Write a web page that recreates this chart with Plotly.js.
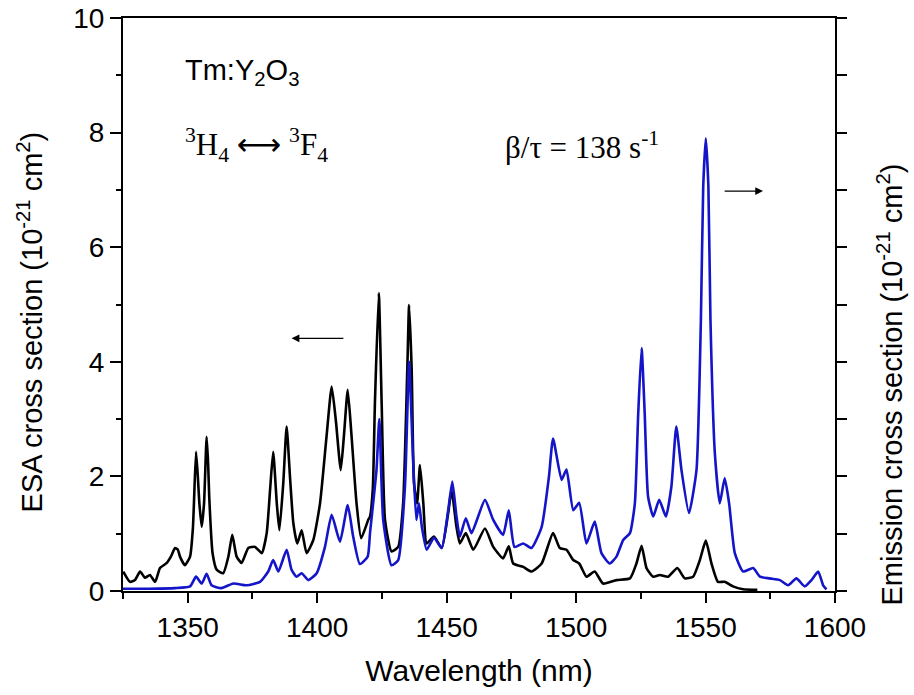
<!DOCTYPE html>
<html>
<head>
<meta charset="utf-8">
<script src="https://cdn.plot.ly/plotly-3.0.1.min.js"></script>
<style>html,body{margin:0;padding:0;background:#fff;}#chart{width:914px;height:695px;}</style>
</head>
<body>
<div id="chart"></div>
<script>
// ESA cross section (black, left axis)
const esaWavelength = [1325.1,1327.7,1329.6,1331.6,1333.5,1335.4,1337.4,1339.3,1341.9,1343.5,1345.1,1346.2,1347.0,1348.9,1350.9,1352.0,1352.4,1353.2,1353.9,1354.5,1355.4,1356.3,1357.3,1357.9,1358.3,1359.6,1361.2,1363.7,1365.7,1367.2,1368.9,1370.8,1373.4,1376.0,1378.6,1380.5,1381.8,1383.0,1384.4,1385.4,1386.9,1388.2,1389.5,1390.8,1392.3,1394.0,1395.9,1398.5,1401.1,1403.6,1405.6,1407.2,1409.1,1410.3,1411.8,1413.3,1415.2,1417.0,1419.7,1420.4,1421.5,1422.3,1423.8,1424.9,1426.2,1428.7,1431.3,1433.2,1434.8,1435.5,1436.5,1437.4,1438.6,1439.7,1441.0,1442.3,1445.1,1448.1,1450.6,1451.9,1453.8,1455.1,1457.4,1460.3,1464.8,1468.0,1471.8,1474.0,1475.7,1479.6,1482.8,1486.7,1491.1,1493.7,1496.3,1498.9,1501.2,1504.0,1507.2,1510.4,1515.6,1520.8,1523.3,1525.3,1527.2,1529.8,1532.3,1535.6,1539.1,1542.0,1545.2,1547.8,1550.1,1552.3,1554.8,1557.4,1560.6,1564.5,1570.0];
const esaValue = [0.34,0.16,0.19,0.34,0.23,0.28,0.16,0.40,0.49,0.60,0.75,0.72,0.60,0.45,0.60,1.10,1.53,2.43,2.00,1.53,1.12,1.53,2.69,2.20,1.65,0.66,0.37,0.31,0.60,0.98,0.60,0.49,0.75,0.77,0.66,1.01,1.76,2.43,1.53,1.06,1.88,2.87,1.99,1.18,0.83,1.06,0.66,0.89,1.53,2.69,3.57,2.98,2.11,2.69,3.51,2.69,1.53,0.92,1.24,1.30,1.80,3.28,5.20,3.28,1.24,0.69,0.77,1.53,3.86,4.99,3.86,1.88,1.53,2.20,1.53,0.83,0.95,0.75,1.36,1.76,1.12,0.83,1.01,0.72,1.09,0.77,0.57,0.78,0.48,0.42,0.34,0.48,1.01,0.75,0.72,0.54,0.48,0.25,0.34,0.13,0.19,0.22,0.48,0.79,0.40,0.25,0.28,0.25,0.40,0.22,0.25,0.54,0.88,0.48,0.16,0.16,0.08,0.03,0.02];

// Emission cross section (blue, right axis)
const emWavelength = [1325.0,1335.0,1345.0,1350.9,1353.2,1355.4,1357.3,1359.2,1363.0,1367.6,1372.8,1377.9,1381.1,1383.0,1385.0,1388.2,1390.1,1392.0,1394.0,1396.6,1399.8,1403.0,1405.6,1408.8,1411.8,1413.9,1416.5,1419.5,1420.4,1422.9,1424.0,1425.5,1428.7,1431.3,1433.9,1435.5,1437.0,1438.3,1439.3,1440.5,1442.3,1445.1,1448.1,1450.6,1452.2,1453.8,1455.1,1457.4,1459.6,1464.8,1468.0,1471.8,1474.0,1476.2,1479.6,1482.8,1486.7,1489.5,1491.1,1494.4,1496.3,1498.9,1501.2,1504.0,1507.2,1509.8,1513.0,1515.6,1518.2,1520.8,1522.7,1524.0,1525.3,1526.5,1527.8,1529.8,1532.1,1534.7,1536.8,1538.7,1540.7,1543.6,1546.5,1548.2,1549.1,1550.1,1551.1,1551.9,1553.6,1555.5,1557.4,1559.1,1561.3,1564.5,1568.4,1571.0,1574.8,1578.7,1581.9,1585.1,1588.3,1590.9,1593.5,1595.4,1596.7];
const emValue = [0.04,0.04,0.05,0.08,0.25,0.13,0.30,0.10,0.05,0.13,0.10,0.16,0.34,0.54,0.34,0.72,0.37,0.25,0.31,0.19,0.31,0.77,1.33,0.86,1.50,0.95,0.47,0.60,1.01,2.11,3.00,1.24,0.45,0.54,1.82,4.00,2.34,1.24,1.53,1.10,0.72,0.93,0.75,1.41,1.91,1.30,0.95,1.27,1.01,1.59,1.24,0.98,1.41,0.77,0.83,0.75,1.12,1.99,2.66,1.94,2.12,1.41,1.54,0.83,1.21,0.66,0.48,0.60,0.89,1.01,1.53,3.10,4.24,3.10,1.65,1.30,1.59,1.30,1.82,2.87,2.11,1.36,2.11,4.73,7.06,7.90,7.06,4.73,2.40,1.53,1.97,1.53,0.66,0.34,0.40,0.25,0.22,0.19,0.10,0.22,0.08,0.19,0.34,0.10,0.03];

const xTickVals = [1350,1400,1450,1500,1550,1600];
const yTickVals = [0,2,4,6,8,10];

const AR = 'Liberation Sans, Arial, sans-serif';
const TR = 'Liberation Serif, Times New Roman, serif';

const traces = [
  {x: esaWavelength, y: esaValue, type: 'scatter', mode: 'lines', name: 'ESA',
   line: {color: '#000000', width: 2.6, shape: 'spline', smoothing: 0.5}, yaxis: 'y'},
  {x: emWavelength, y: emValue, type: 'scatter', mode: 'lines', name: 'Emission',
   line: {color: '#1414c8', width: 2.6, shape: 'spline', smoothing: 0.5}, yaxis: 'y2'}
];

const layout = {
  width: 914, height: 695,
  margin: {l: 123, r: 79, t: 18, b: 104},
  paper_bgcolor: '#ffffff', plot_bgcolor: '#ffffff',
  showlegend: false,
  font: {family: AR, color: '#000', size: 28},
  xaxis: {
    range: [1325, 1600], tickvals: xTickVals, ticktext: xTickVals.map(String),
    showgrid: false, zeroline: false, showline: true, mirror: true,
    linecolor: '#000', linewidth: 2,
    ticks: 'outside', ticklen: 10, tickwidth: 2, tickcolor: '#000',
    minor: {dtick: 25, tick0: 1325, ticks: 'outside', ticklen: 6, tickwidth: 2, tickcolor: '#000'},
    tickfont: {family: AR, size: 28},
    title: {text: 'Wavelength (nm)', font: {family: AR, size: 30}, standoff: 18}
  },
  yaxis: {
    range: [0, 10], tickvals: yTickVals, ticktext: yTickVals.map(String),
    showgrid: false, zeroline: false, showline: true,
    linecolor: '#000', linewidth: 2,
    ticks: 'outside', ticklen: 11, tickwidth: 2, tickcolor: '#000',
    minor: {dtick: 1, tick0: 0, ticks: 'outside', ticklen: 5, tickwidth: 2, tickcolor: '#000'},
    tickfont: {family: AR, size: 28}
  },
  yaxis2: {
    range: [0, 10], overlaying: 'y', side: 'right', anchor: 'x',
    tickvals: [0,1,2,3,4,5,6,7,8,9,10], showticklabels: false,
    showgrid: false, zeroline: false, showline: true,
    linecolor: '#000', linewidth: 2,
    ticks: 'outside', ticklen: 10, tickwidth: 2, tickcolor: '#000'
  },
  annotations: [
    {xref: 'paper', yref: 'paper', x: 0.084, y: 0.905, xanchor: 'left', yanchor: 'middle',
     text: 'Tm:Y<sub>2</sub>O<sub>3</sub>', showarrow: false, font: {family: AR, size: 29, color: '#000'}},
    {xref: 'paper', yref: 'paper', x: 0.084, y: 0.778, xanchor: 'left', yanchor: 'middle',
     text: '<sup>3</sup>H<sub>4</sub> <span style="font-family:DejaVu Sans">\u27f7</span> <sup>3</sup>F<sub>4</sub>', showarrow: false, font: {family: TR, size: 31, color: '#000'}},
    {xref: 'paper', yref: 'paper', x: 0.534, y: 0.778, xanchor: 'left', yanchor: 'middle',
     text: '\u03b2/\u03c4 = 138 s<sup>-1</sup>', showarrow: false, font: {family: TR, size: 31, color: '#000'}},
    {xref: 'x', yref: 'y', axref: 'x', ayref: 'y', x: 1390.1, y: 4.41, ax: 1410.7, ay: 4.41,
     text: '', showarrow: true, arrowhead: 2, arrowsize: 1.3, arrowwidth: 1.2, arrowcolor: '#000'},
    {xref: 'x', yref: 'y', axref: 'x', ayref: 'y', x: 1572.2, y: 6.98, ax: 1556.8, ay: 6.98,
     text: '', showarrow: true, arrowhead: 2, arrowsize: 1.3, arrowwidth: 1.2, arrowcolor: '#000'},
    {xref: 'paper', yref: 'paper', x: -0.131, y: 0.47, xanchor: 'center', yanchor: 'middle', textangle: -90,
     text: 'ESA cross section (10<sup>-21</sup> cm<sup>2</sup>)', showarrow: false, font: {family: AR, size: 29, color: '#000'}},
    {xref: 'paper', yref: 'paper', x: 1.077, y: 0.36, xanchor: 'center', yanchor: 'middle', textangle: -90,
     text: 'Emission cross section (10<sup>-21</sup> cm<sup>2</sup>)', showarrow: false, font: {family: AR, size: 29, color: '#000'}}
  ]
};

Plotly.newPlot('chart', traces, layout, {displayModeBar: false, staticPlot: true});
</script>
</body>
</html>
